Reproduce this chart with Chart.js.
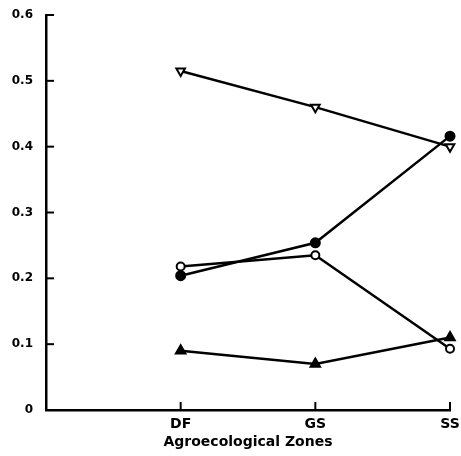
<!DOCTYPE html>
<html>
<head>
<meta charset="utf-8">
<script src="https://cdn.jsdelivr.net/npm/chart.js@4"></script>
<style>
  html, body { margin: 0; padding: 0; background: #fff; }
  #wrap { width: 461px; height: 456px; }
</style>
</head>
<body>
<div id="wrap"><canvas id="grafico"></canvas></div>
<script>
// Datos
const zonas = ['', 'DF', 'GS', 'SS'];
const serieTrianguloInv = [null, 0.515, 0.460, 0.400];
const serieCirculoLleno = [null, 0.204, 0.254, 0.416];
const serieCirculoVacio = [null, 0.218, 0.235, 0.093];
const serieTrianguloLleno = [null, 0.090, 0.070, 0.110];
const ticksY = [0, 0.1, 0.2, 0.3, 0.4, 0.5, 0.6];

// Marcas de escala hacia dentro, como en el original
const marcasInternas = {
  id: 'marcasInternas',
  afterDraw(chart) {
    const c = chart.ctx;
    const x = chart.scales.x, y = chart.scales.y;
    c.save();
    c.strokeStyle = '#000';
    c.lineWidth = 2;
    ticksY.forEach(v => {
      if (v === 0) return;
      const py = y.getPixelForValue(v);
      c.beginPath();
      c.moveTo(x.left, py);
      c.lineTo(x.left + 8, py);
      c.stroke();
    });
    for (let i = 1; i < zonas.length; i++) {
      const px = x.getPixelForValue(i);
      c.beginPath();
      c.moveTo(px, y.bottom);
      c.lineTo(px, y.bottom - 8);
      c.stroke();
    }
    c.restore();
  }
};

function serie(datos, estilo, relleno, radio, rot) {
  return {
    data: datos,
    borderColor: '#000',
    borderWidth: 2.5,
    pointStyle: estilo,
    pointRotation: rot || 0,
    pointRadius: radio,
    pointBorderWidth: 2,
    pointBorderColor: '#000',
    pointBackgroundColor: relleno,
    fill: false,
    tension: 0
  };
}

const ctx = document.getElementById('grafico').getContext('2d');
new Chart(ctx, {
  type: 'line',
  data: {
    labels: zonas,
    datasets: [
      serie(serieTrianguloInv, 'triangle', '#fff', 5, 180),
      serie(serieCirculoLleno, 'circle', '#000', 4.5),
      serie(serieCirculoVacio, 'circle', '#fff', 4),
      serie(serieTrianguloLleno, 'triangle', '#000', 5.5)
    ]
  },
  options: {
    responsive: true,
    maintainAspectRatio: false,
    animation: false,
    layout: { padding: { top: 15, right: 11, left: 0, bottom: 5 } },
    plugins: { legend: { display: false }, tooltip: { enabled: false } },
    scales: {
      x: {
        offset: false,
        grid: { display: false, drawTicks: false },
        border: { display: true, color: '#000', width: 2.5 },
        afterFit(scale) {
          scale.height = 41;
          scale.paddingLeft = 0;
          scale.paddingRight = 0;
        },
        ticks: {
          color: '#000',
          padding: 6,
          maxRotation: 0,
          font: { family: 'DejaVu Sans', weight: 'bold', size: 14 }
        },
        title: {
          display: true,
          text: 'Agroecological Zones',
          color: '#000',
          padding: { top: 0, bottom: 0 },
          font: { family: 'DejaVu Sans', weight: 'bold', size: 14 }
        }
      },
      y: {
        min: 0,
        max: 0.6,
        afterBuildTicks(scale) {
          scale.ticks = ticksY.map(v => ({ value: v }));
        },
        afterFit(scale) {
          scale.width = 46;
          scale.paddingTop = 0;
          scale.paddingBottom = 0;
        },
        grid: { display: false, drawTicks: false },
        border: { display: true, color: '#000', width: 2.5 },
        ticks: {
          color: '#000',
          padding: 13,
          font: { family: 'DejaVu Sans', weight: 'bold', size: 12 },
          callback: v => (v === 0 ? '0' : v.toFixed(1))
        }
      }
    }
  },
  plugins: [marcasInternas]
});
</script>
</body>
</html>
